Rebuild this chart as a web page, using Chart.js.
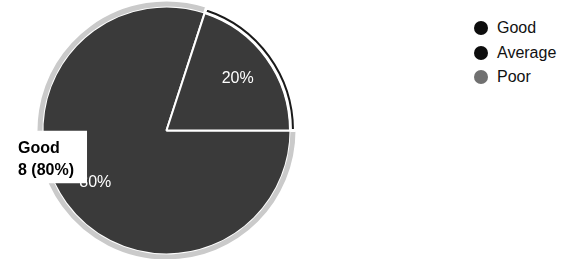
<!DOCTYPE html>
<html>
<head>
<meta charset="utf-8">
<script src="https://cdn.jsdelivr.net/npm/chart.js@4/dist/chart.umd.min.js"></script>
<style>
  html, body { margin: 0; padding: 0; background: #fff; overflow: hidden; }
  #wrap { position: relative; width: 563px; height: 259px; }
  #chartBox { position: absolute; left: 0; top: 1px; width: 333px; height: 259px; }
  #legend { position: absolute; left: 474px; top: 19px; font: 16px "Liberation Sans", Arial, sans-serif; color: #111; }
  #legend div { height: 24.5px; line-height: 18px; white-space: nowrap; }
  #legend span.dot { display: inline-block; width: 14px; height: 14px; border-radius: 50%; vertical-align: -2px; margin-right: 9px; }
</style>
</head>
<body>
<div id="wrap">
  <div id="chartBox"><canvas id="chart"></canvas></div>
  <div id="legend"></div>
</div>
<script>
const labels = ["Good", "Average", "Poor"]
const counts = [8, 2, 0]
const sliceColors = ["#3a3a3a", "#3a3a3a", "#707070"]
const legendColors = ["#0d0d0d", "#0d0d0d", "#707070"]
const ringColors = ["#cacaca", "#1a1a1a", "#ffffff"]

const total = counts.reduce((a, b) => a + b, 0)
const pct = v => Math.round(v / total * 100) + "%"

const legendBox = document.getElementById("legend")
legendBox.innerHTML = labels.map((l, i) =>
  `<div><span class="dot" style="background:${legendColors[i]}"></span>${l}</div>`).join("")

// percent text inside the slices
const sliceText = {
  id: "sliceText",
  afterDatasetsDraw(chart) {
    const ctx = chart.ctx
    const meta = chart.getDatasetMeta(1)
    ctx.save()
    ctx.fillStyle = "#fff"
    ctx.font = '16px "Liberation Sans", Arial, sans-serif'
    ctx.textAlign = "center"
    ctx.textBaseline = "middle"
    meta.data.forEach((arc, i) => {
      if (!counts[i]) return
      const a = (arc.startAngle + arc.endAngle) / 2
      const r = arc.outerRadius * 0.71
      ctx.fillText(pct(counts[i]), arc.x + Math.cos(a) * r, arc.y + Math.sin(a) * r)
    })
    ctx.restore()
  }
}

Chart.Tooltip.positioners.fixedBox = function () {
  return { x: 7, y: 156 }
}

const chart = new Chart(document.getElementById("chart"), {
  type: "pie",
  data: {
    labels: labels,
    datasets: [{
      data: counts,
      weight: 5,
      backgroundColor: ringColors,
      borderColor: "#fff",
      borderWidth: [0, 3, 0],
      hoverBackgroundColor: ringColors,
      hoverBorderWidth: [0, 3, 0]
    }, {
      data: counts,
      weight: 124,
      backgroundColor: sliceColors,
      hoverBackgroundColor: sliceColors,
      borderColor: "#fff",
      hoverBorderColor: "#fff",
      borderWidth: 2,
      hoverBorderWidth: 2
    }]
  },
  options: {
    responsive: true,
    maintainAspectRatio: false,
    animation: false,
    events: [],
    rotation: 90,
    radius: 129,
    hoverOffset: 0,
    plugins: {
      legend: { display: false },
      tooltip: {
        position: "fixedBox",
        xAlign: "left",
        yAlign: "center",
        caretSize: 0,
        caretPadding: 0,
        cornerRadius: 0,
        displayColors: false,
        backgroundColor: "#fff",
        titleColor: "#000",
        bodyColor: "#000",
        titleFont: { family: '"Liberation Sans", Arial', size: 16, weight: "bold" },
        bodyFont: { family: '"Liberation Sans", Arial', size: 16, weight: "bold" },
        titleMarginBottom: 3,
        padding: { left: 11, right: 13, top: 8, bottom: 3 },
        callbacks: {
          title: items => items[0].label,
          label: item => `${item.raw} (${pct(item.raw)})`
        }
      }
    }
  },
  plugins: [sliceText]
})

chart.tooltip.setActiveElements([{ datasetIndex: 1, index: 0 }], { x: 7, y: 156 })
chart.update()
</script>
</body>
</html>
